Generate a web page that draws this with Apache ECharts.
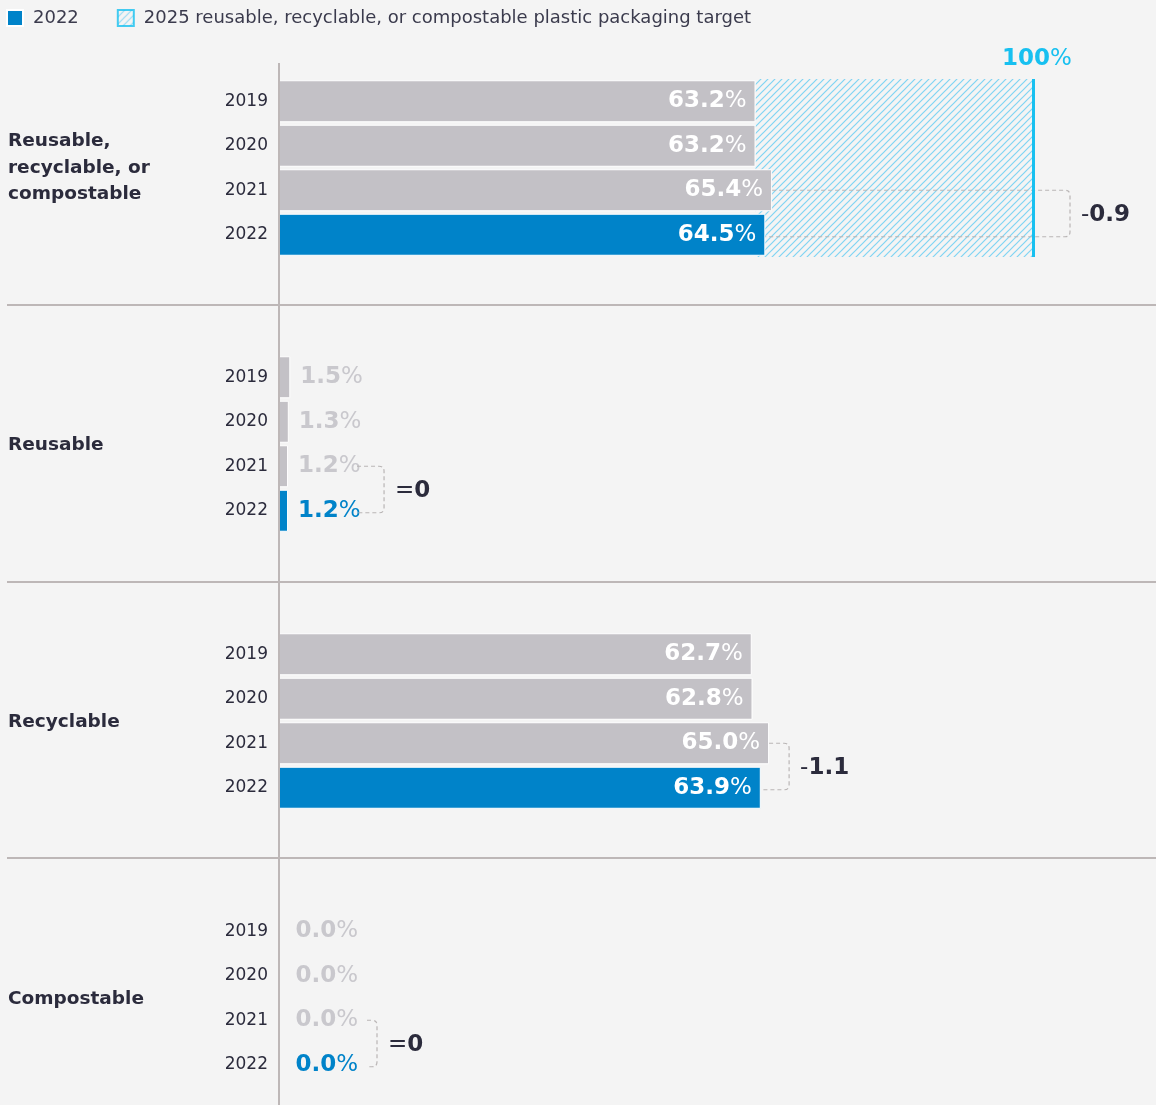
<!DOCTYPE html>
<html>
<head>
<meta charset="utf-8">
<script src="https://cdn.jsdelivr.net/npm/echarts@6/dist/echarts.min.js"></script>
<style>
  html, body { margin: 0; padding: 0; background: #f4f4f4; }
  #chart { width: 1156px; height: 1105px; }
</style>
</head>
<body>
<div id="chart"></div>
<script>
// data
const years = ['2019', '2020', '2021', '2022'];
const panelNames = ['Reusable,\nrecyclable, or\ncompostable', 'Reusable', 'Recyclable', 'Compostable'];
const combinedValues = [63.2, 63.2, 65.4, 64.5];
const reusableValues = [1.5, 1.3, 1.2, 1.2];
const recyclableValues = [62.7, 62.8, 65.0, 63.9];
const compostableValues = [0.0, 0.0, 0.0, 0.0];
const targetValue = 100;
const legendNames = ['2022', '2025 reusable, recyclable, or compostable plastic packaging target'];

const panelValues = [combinedValues, reusableValues, recyclableValues, compostableValues];

// layout
const GRID_LEFT = 279;
const GRID_RIGHT = 123;
const GRID_H = 178;
const gridTops = [79, 355, 632, 909];
const panelCenters = [168, 445, 722, 999];
const labelInside = [true, false, true, false];
const labelDist = [9, 10, 9, 16];
const lineStart = [0, 69, 0, 88];      // px after bar end where dashed line starts
const bracketRef = ['target', 'max', 'max', 'max'];
const bracketGap = [37, 96, 20, 98];

const BLUE = '#0083c9';
const GRAY = '#c3c1c6';
const LABEL_GRAY = '#c9c8cd';
const DARK = '#2b2b3c';
const CYAN = '#17c0f0';
const FONT = '"DejaVu Sans", sans-serif';

// hatch pattern
function makeHatch() {
  const c = document.createElement('canvas');
  c.width = 7; c.height = 7;
  const ctx = c.getContext('2d');
  ctx.strokeStyle = '#80d4f3';
  ctx.lineWidth = 1.2;
  ctx.beginPath();
  ctx.moveTo(-1, 8); ctx.lineTo(8, -1);
  ctx.moveTo(-4, 4); ctx.lineTo(4, -4);
  ctx.moveTo(3, 11); ctx.lineTo(11, 3);
  ctx.stroke();
  return { image: c, repeat: 'repeat' };
}
const hatch = makeHatch();

const myChart = echarts.init(document.getElementById('chart'));

const grids = [], xAxes = [], yAxes = [], series = [];

panelValues.forEach((vals, k) => {
  grids.push({ left: GRID_LEFT, right: GRID_RIGHT, top: gridTops[k], height: GRID_H });
  xAxes.push({
    gridIndex: k, type: 'value', min: 0, max: targetValue,
    axisLine: { show: false }, axisTick: { show: false },
    axisLabel: { show: false }, splitLine: { show: false }
  });
  yAxes.push({
    gridIndex: k, type: 'category', inverse: true, data: years,
    axisLine: { show: false }, axisTick: { show: false },
    axisLabel: { fontSize: 17, color: DARK, margin: 11, fontFamily: FONT }
  });

  const inside = labelInside[k];
  series.push({
    name: '2022',
    type: 'bar',
    xAxisIndex: k, yAxisIndex: k,
    barWidth: 42,
    z: 3,
    itemStyle: { color: BLUE, borderColor: '#ffffff', borderWidth: 1 },
    data: vals.map((v, i) => i === 3 ? v : { value: v, itemStyle: { color: GRAY } }),
    label: {
      show: true,
      position: inside ? 'insideRight' : 'right',
      distance: labelDist[k],
      formatter: p => {
        const key = inside ? 'w' : (p.dataIndex === 3 ? 'b' : 'g');
        return `{${key}|${p.value.toFixed(1)}}{${key}p|%}`;
      },
      rich: {
        w: { color: '#ffffff', fontSize: 23, fontWeight: 'bold', fontFamily: FONT },
        wp: { color: '#ffffff', fontSize: 23, fontWeight: 'normal', fontFamily: FONT },
        g: { color: LABEL_GRAY, fontSize: 23, fontWeight: 'bold', fontFamily: FONT },
        gp: { color: LABEL_GRAY, fontSize: 23, fontWeight: 'normal', fontFamily: FONT },
        b: { color: BLUE, fontSize: 23, fontWeight: 'bold', fontFamily: FONT },
        bp: { color: BLUE, fontSize: 23, fontWeight: 'normal', fontFamily: FONT }
      }
    },
    markLine: k === 0 ? {
      silent: true,
      symbol: ['none', 'none'],
      lineStyle: { color: CYAN, width: 3, type: 'solid' },
      label: {
        show: true, position: 'start', distance: 8, offset: [4, 0],
        formatter: '{n|100}{p|%}',
        rich: {
          n: { color: CYAN, fontSize: 23, fontWeight: 'bold', fontFamily: FONT },
          p: { color: CYAN, fontSize: 23, fontWeight: 'normal', fontFamily: FONT }
        }
      },
      data: [{ xAxis: targetValue }]
    } : undefined
  });

  if (k === 0) {
    series.push({
      name: legendNames[1],
      type: 'scatter',
      xAxisIndex: 0, yAxisIndex: 0,
      data: [],
      z: 1,
      itemStyle: { color: hatch, borderColor: CYAN, borderWidth: 2 },
      markArea: {
        silent: true,
        itemStyle: { color: hatch },
        data: [[{ xAxis: Math.min(...vals) }, { xAxis: targetValue }]]
      }
    });
  }

  // year-on-year bracket between 2021 and 2022
  const diff = Math.round((vals[3] - vals[2]) * 10) / 10;
  const diffText = diff === 0 ? '{s|=}{v|0}' : `{s|${diff < 0 ? '-' : '+'}}{v|${Math.abs(diff).toFixed(1)}}`;
  series.push({
    type: 'custom',
    xAxisIndex: k, yAxisIndex: k,
    silent: true,
    z: 4,
    encode: { x: [0, 1] },
    data: [[vals[2], vals[3]]],
    renderItem: (params, api) => {
      const a = api.coord([api.value(0), 2]);
      const b = api.coord([api.value(1), 3]);
      const x1 = a[0] + lineStart[k], x2 = b[0] + lineStart[k];
      const ref = bracketRef[k] === 'target' ? targetValue : Math.max(api.value(0), api.value(1));
      const bx = api.coord([ref, 0])[0] + bracketGap[k];
      const y1 = a[1], y2 = b[1] + 2, r = 5;
      const path = `M${x1} ${y1}L${bx - r} ${y1}Q${bx} ${y1} ${bx} ${y1 + r}L${bx} ${y2 - r}Q${bx} ${y2} ${bx - r} ${y2}L${x2} ${y2}`;
      return {
        type: 'group',
        children: [
          {
            type: 'path',
            shape: { pathData: path },
            style: { stroke: '#b9b5b5', lineWidth: 1.2, lineDash: [4, 3], fill: null }
          },
          {
            type: 'text',
            style: {
              x: bx + 11, y: (y1 + y2) / 2 + 2,
              text: diffText,
              verticalAlign: 'middle', align: 'left',
              rich: {
                s: { fill: DARK, fontSize: 23, fontWeight: 'normal', fontFamily: FONT },
                v: { fill: DARK, fontSize: 23, fontWeight: 'bold', fontFamily: FONT }
              }
            }
          }
        ]
      };
    }
  });
});

const graphics = [];
// separators
[305, 582, 858].forEach(y => {
  graphics.push({
    type: 'line', silent: true, z: 10,
    shape: { x1: 7, y1: y, x2: 1156, y2: y },
    style: { stroke: '#bdb7b7', lineWidth: 2 }
  });
});
// vertical axis line
graphics.push({
  type: 'line', silent: true, z: 10,
  shape: { x1: GRID_LEFT, y1: 63, x2: GRID_LEFT, y2: 1105 },
  style: { stroke: '#bdb7b7', lineWidth: 2 }
});
// panel titles
panelNames.forEach((name, k) => {
  graphics.push({
    type: 'text', silent: true,
    style: {
      x: 8, y: panelCenters[k],
      text: name,
      verticalAlign: 'middle', align: 'left',
      fill: DARK, font: `bold 18.5px ${FONT}`, lineHeight: 26.5
    }
  });
});

const option = {
  backgroundColor: '#f4f4f4',
  animation: false,
  legend: {
    left: 6, top: 9,
    padding: 0,
    icon: 'rect',
    itemWidth: 16, itemHeight: 16,
    itemGap: 38,
    selectedMode: false,
    textStyle: { fontSize: 18, color: '#3b3b4d', fontFamily: FONT, padding: [0, 0, 0, 5] },
    data: [
      { name: legendNames[0], itemStyle: { color: BLUE } },
      { name: legendNames[1], itemStyle: { color: hatch, borderColor: CYAN, borderWidth: 2 } }
    ]
  },
  grid: grids,
  xAxis: xAxes,
  yAxis: yAxes,
  series: series,
  graphic: graphics
};

myChart.setOption(option);
</script>
</body>
</html>
